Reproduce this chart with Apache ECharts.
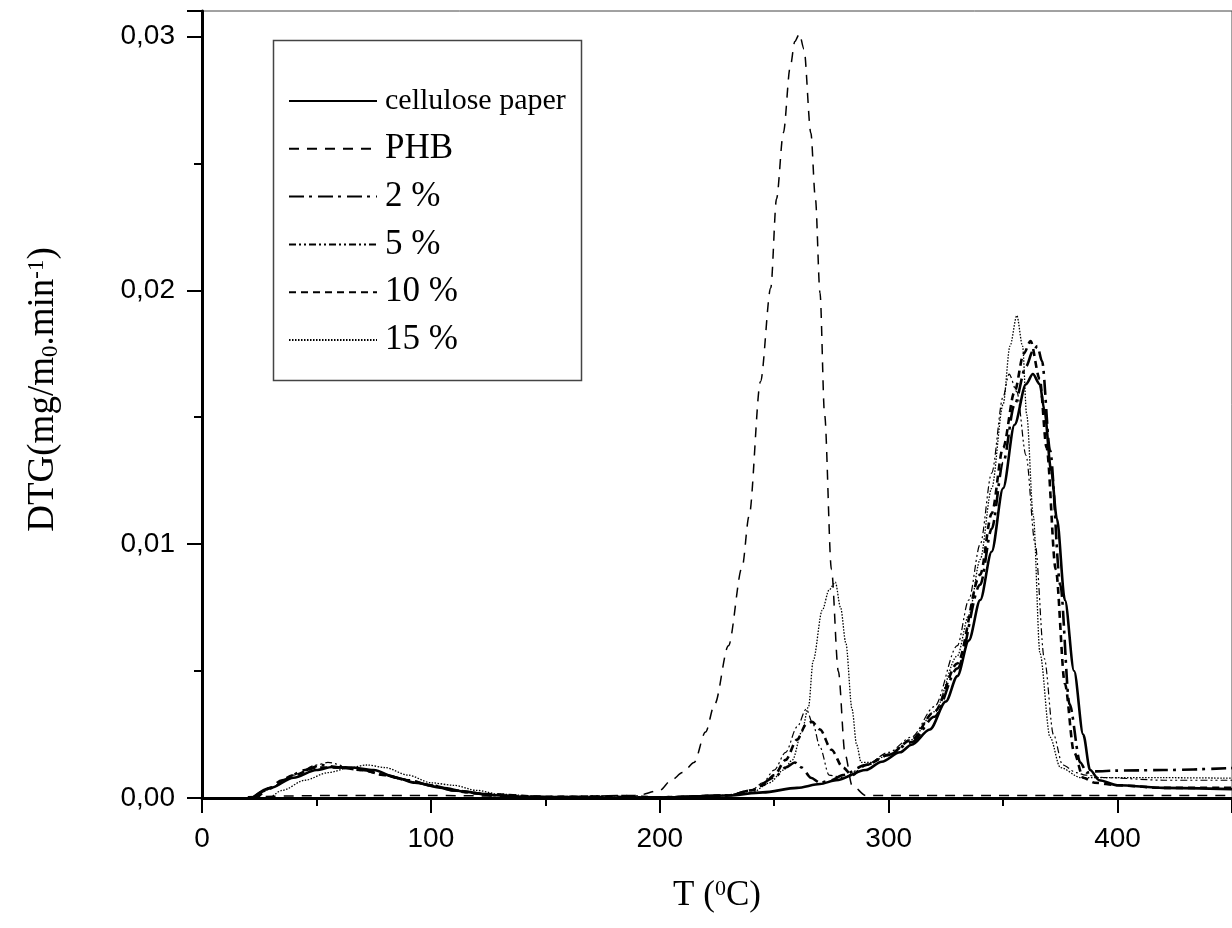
<!DOCTYPE html>
<html>
<head>
<meta charset="utf-8">
<script src="https://cdn.jsdelivr.net/npm/echarts@6/dist/echarts.min.js"></script>
<style>
  html, body { margin: 0; padding: 0; background: #fff; }
  #main { width: 1232px; height: 928px; }
</style>
</head>
<body>
<div id="main"></div>
<script>
// DTG curves, [T in °C, DTG]
const seriesNames = ['cellulose paper', 'PHB', '2 %', '5 %', '10 %', '15 %'];

const cellulosePaper = [
  [22,0],[30,0.0004],[40,0.0008],[50,0.0011],[57,0.00122],[65,0.0012],[75,0.0011],[85,0.0008],[93,0.0006],
  [105,0.0004],[115,0.00025],[125,0.00012],[140,0.00005],[170,0.00002],[200,0.00002],[230,0.0001],[245,0.00022],
  [260,0.0004],[270,0.00055],[277,0.0007],[290,0.0011],[297,0.00143],[305,0.0018],[310,0.0021],[318,0.0027],
  [325,0.0038],[330,0.0048],[335,0.0062],[340,0.0078],[345,0.0097],[350,0.0122],[355,0.0147],[360,0.0163],
  [363,0.0167],[366,0.0163],[368,0.0153],[371,0.0129],[373.5,0.011],[377,0.0078],[381,0.005],[385,0.0025],
  [388,0.0011],[392,0.0007],[400,0.0005],[420,0.0004],[450,0.00035]
];
const phb = [
  [20,0.00005],[60,0.0001],[100,0.0001],[150,0.00005],[190,0.0001],[200,0.0003],[205,0.0007],[210,0.001],
  [215,0.0014],[220,0.0026],[224,0.0037],[230,0.006],[236,0.0091],[239,0.0111],[244,0.0164],[248.5,0.0201],
  [251,0.0236],[254,0.0262],[257,0.0288],[259,0.0298],[261,0.0301],[263,0.0295],[266,0.0262],[268,0.0236],
  [270,0.0199],[272,0.0151],[275,0.009],[278,0.005],[281,0.0017],[284,0.0005],[290,0.0001],[450,0.0001]
];
const pct2 = [
  [22,0],[28,0.0003],[35,0.0007],[45,0.0011],[52,0.0013],[60,0.0012],[70,0.0011],[80,0.0009],[90,0.0007],
  [100,0.0005],[110,0.0003],[120,0.00018],[130,0.0001],[150,0.00004],[200,0.00003],[230,0.0001],[240,0.0003],
  [250,0.0008],[255,0.0012],[259,0.0014],[262,0.0012],[266,0.0008],[270,0.0006],[275,0.0007],[280,0.0009],
  [290,0.0013],[300,0.0017],[310,0.0022],[320,0.0032],[330,0.0051],[340,0.0084],[345,0.0106],[350,0.0132],
  [355,0.0155],[360,0.017],[363,0.0176],[365,0.0178],[367,0.0172],[370.5,0.0137],[375,0.0084],[379,0.0037],
  [383.7,0.0014],[386.6,0.001],[390,0.00105],[400,0.00108],[420,0.0011],[450,0.00118]
];
const pct5 = [
  [23,0],[30,0.0004],[40,0.0009],[50,0.0013],[55,0.0014],[65,0.0012],[75,0.0011],[85,0.0008],[95,0.0006],
  [105,0.0004],[115,0.0002],[130,0.0001],[150,0.00005],[185,0.0001],[200,0.00005],[230,0.0001],[240,0.0003],
  [245,0.0006],[250,0.0011],[255,0.0018],[260,0.0028],[264,0.0035],[267,0.0029],[270,0.002],[274,0.0009],
  [280,0.0008],[290,0.0013],[300,0.0018],[310,0.0024],[320,0.0036],[330,0.006],[335,0.0078],[340,0.01],
  [345,0.0128],[350,0.0158],[352.6,0.0167],[356,0.016],[360,0.0135],[364,0.01],[368,0.0055],[372,0.0025],
  [376,0.0013],[382,0.001],[386,0.0009],[395,0.0008],[420,0.0007],[450,0.0007]
];
const pct10 = [
  [24,0],[30,0.0004],[40,0.0009],[50,0.0012],[60,0.0012],[70,0.0011],[80,0.0009],[90,0.0007],[100,0.0005],
  [110,0.0003],[125,0.00015],[150,0.00005],[200,0.00003],[230,0.0001],[240,0.0003],[245,0.0005],[250,0.0009],
  [255,0.0015],[260,0.0023],[264,0.0029],[266.5,0.003],[270,0.0027],[275,0.0019],[280,0.0012],[284,0.0009],
  [290,0.0013],[300,0.0017],[310,0.0023],[320,0.0034],[330,0.0053],[340,0.0088],[345,0.0112],[350,0.0138],
  [355,0.016],[359,0.0175],[362,0.018],[366,0.0165],[369,0.0138],[373,0.009],[377,0.0045],[381,0.0018],
  [385,0.0008],[390,0.0006],[400,0.0005],[420,0.0004],[450,0.0004]
];
const pct15 = [
  [30,0],[35,0.0003],[45,0.0007],[55,0.001],[65,0.0012],[72,0.0013],[80,0.0012],[90,0.0009],[100,0.0006],
  [110,0.0005],[120,0.0003],[130,0.00015],[150,0.00005],[200,0.00003],[230,0.0001],[240,0.0002],[248,0.0006],
  [254,0.0011],[258,0.0015],[262,0.0026],[265,0.0036],[267,0.0054],[271,0.0074],[274,0.0082],[276.7,0.0085],
  [279,0.0075],[281.3,0.0061],[284,0.0035],[286,0.0021],[288,0.0014],[292,0.0014],[300,0.0017],[310,0.0023],
  [320,0.0034],[330,0.0056],[335,0.0072],[340,0.0094],[345,0.0122],[350,0.0155],[353,0.0178],[356,0.019],
  [358.5,0.0178],[360.3,0.0151],[363.2,0.0111],[366.1,0.0057],[370.5,0.0024],[375,0.0012],[384,0.0008],
  [395,0.0008],[420,0.0008],[450,0.00078]
];

const xTicks = { min: 0, max: 450, interval: 100 };
const yTicks = { min: 0, max: 0.031, interval: 0.01 };

const serif = '"Liberation Serif", "Times New Roman", serif';
const sans = '"Liberation Sans", Arial, sans-serif';

// line look per curve: [width, dash]
const looks = [
  [2.6, 'solid'],
  [1.5, [10, 8]],
  [2.6, [15, 5, 3, 6]],
  [1.2, [7, 3, 2, 3, 2, 3]],
  [2.6, [7, 5]],
  [1.3, [1.5, 1.5]]
];
const curves = [cellulosePaper, phb, pct2, pct5, pct10, pct15];

const chart = echarts.init(document.getElementById('main'), null, { renderer: 'canvas' });

const option = {
  backgroundColor: '#fff',
  animation: false,
  grid: {
    left: 202, top: 11, right: -12, bottom: 130,
    show: true, borderColor: '#444', borderWidth: 1
  },
  xAxis: {
    type: 'value',
    min: xTicks.min, max: xTicks.max, interval: xTicks.interval,
    name: '{a|T (}{sup|0}{a|C)}',
    nameLocation: 'middle',
    nameGap: 80,
    nameTextStyle: {
      rich: {
        a: { fontFamily: serif, fontSize: 35, color: '#000' },
        sup: { fontFamily: serif, fontSize: 22, color: '#000', verticalAlign: 'top', padding: [0, 0, 14, 0] }
      }
    },
    axisLine: { lineStyle: { color: '#000', width: 3 } },
    axisTick: { length: 15, lineStyle: { color: '#000', width: 2 } },
    minorTick: { show: true, splitNumber: 2, length: 8, lineStyle: { color: '#000', width: 2 } },
    splitLine: { show: false },
    axisLabel: {
      fontFamily: sans, fontSize: 28, color: '#000', margin: 27,
      showMaxLabel: false
    }
  },
  yAxis: {
    type: 'value',
    min: yTicks.min, max: yTicks.max, interval: yTicks.interval,
    name: '{a|DTG(mg/m}{sub|0}{a|.min}{sup|-1}{a|)}',
    nameLocation: 'middle',
    nameGap: 140,
    nameTextStyle: {
      padding: [0, 0, 0, 30],
      rich: {
        a: { fontFamily: serif, fontSize: 37, color: '#000' },
        sub: { fontFamily: serif, fontSize: 23, color: '#000', verticalAlign: 'bottom', padding: [10, 0, 0, 0] },
        sup: { fontFamily: serif, fontSize: 23, color: '#000', verticalAlign: 'top', padding: [0, 0, 14, 0] }
      }
    },
    axisLine: { show: true, lineStyle: { color: '#000', width: 3 } },
    axisTick: { show: true, length: 15, lineStyle: { color: '#000', width: 2 } },
    minorTick: { show: true, splitNumber: 2, length: 8, lineStyle: { color: '#000', width: 2 } },
    splitLine: { show: false },
    axisLabel: {
      fontFamily: sans, fontSize: 28, color: '#000', margin: 27,
      showMaxLabel: false,
      formatter: v => v.toFixed(2).replace('.', ',')
    }
  },
  legend: {
    orient: 'vertical',
    left: 288, top: 83.5,
    padding: 0,
    itemWidth: 88, itemHeight: 35, itemGap: 12.8,
    selectedMode: false,
    itemStyle: { opacity: 0, borderWidth: 0 },
    textStyle: { fontFamily: serif, fontSize: 35, color: '#000', lineHeight: 35, padding: [0, 0, 0, 3] },
    data: seriesNames.map((n, i) => i === 0
      ? { name: n, textStyle: { fontSize: 30, lineHeight: 35 } }
      : { name: n })
  },
  graphic: [{
    type: 'rect',
    shape: { x: 273.5, y: 40.5, width: 308, height: 340 },
    style: { fill: 'none', stroke: '#444', lineWidth: 1.5 },
    z: 5
  }],
  series: curves.map((d, i) => ({
    name: seriesNames[i],
    type: 'line',
    data: d,
    symbol: 'none',
    smooth: 0.3,
    smoothMonotone: 'x',
    clip: true,
    lineStyle: { color: '#000', width: looks[i][0], type: looks[i][1] },
    itemStyle: { color: '#000' }
  }))
};

chart.setOption(option);
</script>
</body>
</html>
